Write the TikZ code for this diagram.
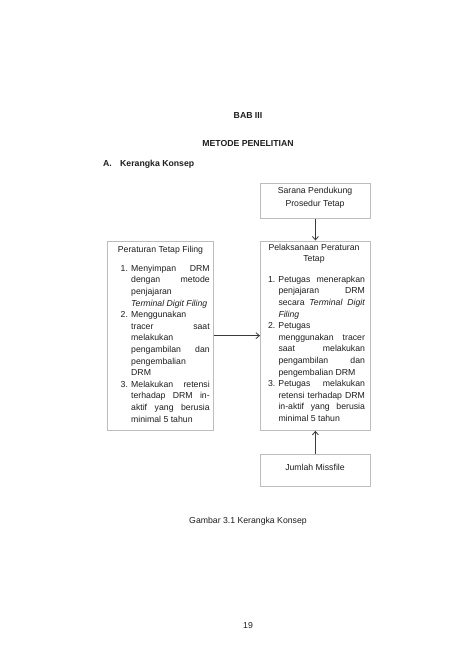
\documentclass[tikz,border=0pt]{standalone}
\usepackage{fontspec}
\setmainfont{Liberation Sans}
\usepackage{array}
\usetikzlibrary{arrows.meta}
\definecolor{boxline}{HTML}{BDBDBD}
\definecolor{arrowline}{HTML}{3A3A3A}
\definecolor{txt}{HTML}{1E1E1E}
\newcommand\jst[1]{\makebox[\linewidth][s]{#1}}
\tikzset{
  box/.style={draw=boxline, line width=0.8pt, fill=white, inner sep=0pt, anchor=north west},
  lbl/.style={inner sep=0pt, anchor=base, text=txt, font=\fontsize{8.7}{11.6}\selectfont},
  lst/.style={inner sep=0pt, anchor=north west, text=txt, font=\fontsize{8.7}{11.6}\selectfont},
  conn/.style={draw=arrowline, line width=0.8pt, -{Straight Barb[length=3.5pt,width=6pt]}}
}
\begin{document}
\begin{tikzpicture}[x=1pt,y=-1pt]
\useasboundingbox[fill=white] (0,0) rectangle (474,670);
% headings
\node[lbl, font=\fontsize{8.7}{11.6}\selectfont\bfseries] (bab) at (248,118) {BAB III};
\node[lbl, font=\fontsize{8.7}{11.6}\selectfont\bfseries] (metode) at (248,146.5) {METODE PENELITIAN};
\node[lbl, anchor=base west, font=\fontsize{8.7}{11.6}\selectfont\bfseries] (secA) at (103,166) {A.};
\node[lbl, anchor=base west, font=\fontsize{8.7}{11.6}\selectfont\bfseries] (secT) at (120,166) {Kerangka Konsep};
% boxes
\node[box, minimum width=110pt, minimum height=35pt] (sarana) at (260,183) {};
\node[box, minimum width=106pt, minimum height=189.5pt] (perat) at (107,240.5) {};
\node[box, minimum width=110pt, minimum height=189.5pt] (pelak) at (260,240.5) {};
\node[box, minimum width=110pt, minimum height=32pt] (jumlah) at (260,454) {};
% sarana text
\node[lbl] (saranaA) at (315,193.7) {Sarana Pendukung};
\node[lbl] (saranaB) at (315,206.3) {Prosedur Tetap};
% left box
\node[lbl] (peratT) at (160.5,252) {Peraturan Tetap Filing};
\node[lst] (peratL) at (120.5,262.9) {%
\begin{tabular}{@{}p{10.5pt}@{}p{78.5pt}@{}}
1. & \jst{Menyimpan DRM}\\
   & \jst{dengan metode}\\
   & penjajaran\\
   & \textit{Terminal Digit Filing}\\
2. & Menggunakan\\
   & \jst{tracer saat}\\
   & melakukan\\
   & \jst{pengambilan dan}\\
   & pengembalian\\
   & DRM\\
3. & \jst{Melakukan retensi}\\
   & \jst{terhadap DRM in-}\\
   & \jst{aktif yang berusia}\\
   & minimal 5 tahun
\end{tabular}};
% right box
\node[lbl] (pelakA) at (314,250) {Pelaksanaan Peraturan};
\node[lbl] (pelakB) at (314,261.7) {Tetap};
\node[lst] (pelakL) at (267.8,273.9) {%
\begin{tabular}{@{}p{10.5pt}@{}p{86.5pt}@{}}
1. & \jst{Petugas menerapkan}\\
   & \jst{penjajaran DRM}\\
   & \jst{secara \textit{Terminal Digit}}\\
   & \textit{Filing}\\
2. & Petugas\\
   & \jst{menggunakan tracer}\\
   & \jst{saat melakukan}\\
   & \jst{pengambilan dan}\\
   & pengembalian DRM\\
3. & \jst{Petugas melakukan}\\
   & \jst{retensi terhadap DRM}\\
   & \jst{in-aktif yang berusia}\\
   & minimal 5 tahun
\end{tabular}};
% jumlah text
\node[lbl] (jumlahT) at (315,470) {Jumlah Missfile};
% connectors
\draw[conn] (sarana.south) -- (pelak.north);
\draw[conn] (jumlah.north) -- (pelak.south);
\draw[conn] (perat.east) -- (pelak.west);
% caption and page number
\node[lbl] (caption) at (248,523) {Gambar 3.1 Kerangka Konsep};
\node[lbl] (page) at (248,628) {19};
\end{tikzpicture}
\end{document}
